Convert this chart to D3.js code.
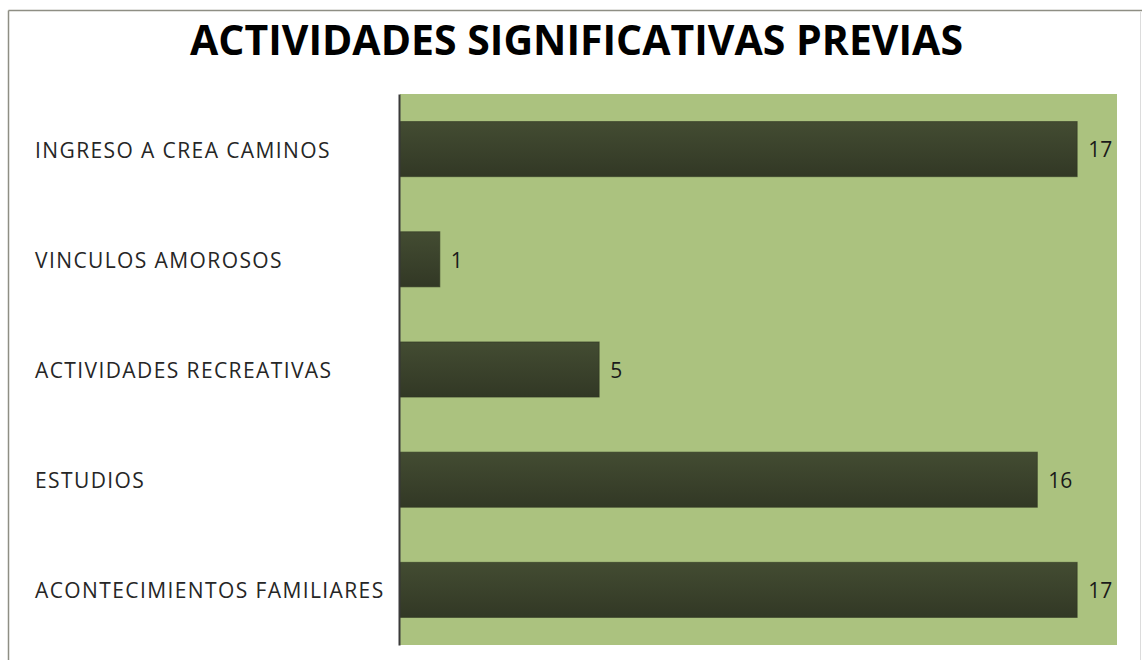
<!DOCTYPE html>
<html>
<head>
<meta charset="utf-8">
<script src="https://cdn.jsdelivr.net/npm/d3@7"></script>
<style>
  body { margin: 0; background: #fff; }
  text { font-family: "Open Sans", sans-serif; }
</style>
</head>
<body>
<script>
"use strict";

// chart data
const chartTitle = "ACTIVIDADES SIGNIFICATIVAS PREVIAS";
const categories = [
    "INGRESO A CREA CAMINOS",
    "VINCULOS AMOROSOS",
    "ACTIVIDADES RECREATIVAS",
    "ESTUDIOS",
    "ACONTECIMIENTOS FAMILIARES"
];
const values = [17, 1, 5, 16, 17];
const xDomain = [0, 18];

// dimensions
const measurements = {
    width: 1142,
    height: 660,
    plotLeft: 400,
    plotRight: 1117,
    plotTop: 94,
    plotBottom: 645
};

const svg = d3.select("body").append("svg")
    .attr("width", measurements.width)
    .attr("height", measurements.height);

// outer chart frame
svg.append("rect")
    .attr("x", 0).attr("y", 0)
    .attr("width", measurements.width).attr("height", measurements.height)
    .attr("fill", "#fff");
svg.append("line")
    .attr("x1", 8.5).attr("x2", 1142).attr("y1", 10.5).attr("y2", 10.5)
    .attr("stroke", "#8e8e84").attr("stroke-width", 1.5);
svg.append("line")
    .attr("x1", 8.5).attr("x2", 8.5).attr("y1", 10.5).attr("y2", 660)
    .attr("stroke", "#8e8e84").attr("stroke-width", 1.5);
svg.append("line")
    .attr("x1", 1140.5).attr("x2", 1140.5).attr("y1", 12).attr("y2", 660)
    .attr("stroke", "#dcdcdc").attr("stroke-width", 1);

// gradient for the bars
const defs = svg.append("defs");
const grad = defs.append("linearGradient")
    .attr("id", "barGrad")
    .attr("x1", 0).attr("y1", 0).attr("x2", 0).attr("y2", 1);
grad.append("stop").attr("offset", "0%").attr("stop-color", "#434c32");
grad.append("stop").attr("offset", "100%").attr("stop-color", "#323825");

// scales
const scaleX = d3.scaleLinear()
    .domain(xDomain)
    .range([measurements.plotLeft, measurements.plotRight]);

const scaleY = d3.scaleBand()
    .domain(categories)
    .range([measurements.plotTop, measurements.plotBottom])
    .paddingInner(0.5)
    .paddingOuter(0.25);

// plot background
svg.append("rect")
    .attr("x", measurements.plotLeft)
    .attr("y", measurements.plotTop)
    .attr("width", measurements.plotRight - measurements.plotLeft)
    .attr("height", measurements.plotBottom - measurements.plotTop)
    .attr("fill", "#abc27f");

// bars
svg.selectAll(".bar")
    .data(values)
    .enter()
    .append("rect")
    .attr("class", "bar")
    .attr("x", scaleX(0))
    .attr("y", (d, i) => scaleY(categories[i]))
    .attr("width", d => scaleX(d) - scaleX(0))
    .attr("height", scaleY.bandwidth())
    .attr("fill", "url(#barGrad)")
    .attr("stroke", "#2f3522")
    .attr("stroke-opacity", 0.6)
    .attr("stroke-width", 1);

// value labels
svg.selectAll(".valueLabel")
    .data(values)
    .enter()
    .append("text")
    .attr("class", "valueLabel")
    .attr("x", d => scaleX(d) + 11)
    .attr("y", (d, i) => scaleY(categories[i]) + scaleY.bandwidth() / 2 + 1)
    .attr("dy", "0.35em")
    .attr("font-size", 21)
    .attr("fill", "#1a1a1a")
    .text(d => d);

// y axis, labels on the left edge of the chart
const yAxis = d3.axisLeft(scaleY).tickSize(0).tickPadding(0);
const yAxisG = svg.append("g")
    .attr("transform", "translate(" + (measurements.plotLeft - 1) + ",0)")
    .call(yAxis);
yAxisG.select(".domain")
    .attr("stroke", "#3a3a3a")
    .attr("stroke-width", 2);
yAxisG.selectAll(".tick text")
    .attr("text-anchor", "start")
    .attr("x", 35 - (measurements.plotLeft - 1))
    .attr("dy", "0.4em")
    .attr("font-family", "Open Sans, sans-serif")
    .attr("font-size", 21)
    .attr("letter-spacing", 1.4)
    .attr("fill", "#262626");

// title
svg.append("text")
    .attr("x", (190 + 963) / 2)
    .attr("y", 55)
    .attr("text-anchor", "middle")
    .attr("font-size", 41)
    .attr("font-weight", "bold")
    .attr("fill", "#000")
    .attr("textLength", 773)
    .attr("lengthAdjust", "spacingAndGlyphs")
    .text(chartTitle);
</script>
</body>
</html>
